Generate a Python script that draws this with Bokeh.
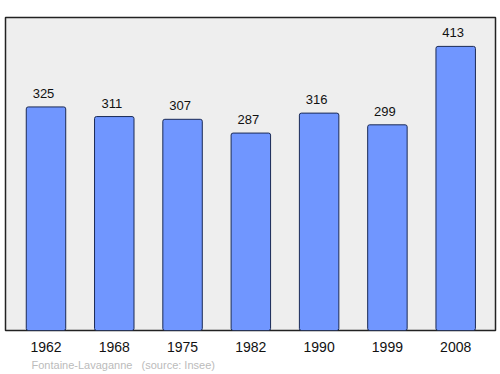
from bokeh.plotting import figure
from bokeh.models import ColumnDataSource, FixedTicker, Title, Range1d
from bokeh.core.properties import value
from bokeh.embed import file_html
from bokeh.resources import INLINE

years = ["1962", "1968", "1975", "1982", "1990", "1999", "2008"]
population = [325, 311, 307, 287, 316, 299, 413]
footer = "Fontaine-Lavaganne\u00a0\u00a0\u00a0(source: Insee)"

xs = list(range(len(years)))
src = ColumnDataSource(dict(x=xs, top=population, label=[str(v) for v in population]))

p = figure(width=500, height=374, output_backend="svg", toolbar_location=None,
           x_range=Range1d(-0.593, 6.583), y_range=Range1d(0, 455),
           min_border_left=5, min_border_right=5, min_border_top=17, min_border_bottom=44)
p.background_fill_color = "#eeeeee"
p.border_fill_color = "white"
p.outline_line_color = "#222222"
p.outline_line_width = 1.5
p.grid.visible = False
p.yaxis.visible = False

p.vbar(x="x", top="top", width=0.578, bottom=0, source=src,
       fill_color="#7096ff", line_color="#1a2a55", line_width=1, border_radius=2)
p.text(x="x", y="top", text="label", source=src, text_align="center",
       text_baseline="bottom", y_offset=-9, x_offset=-2.5, text_font_size="13px",
       text_color="#111111", text_font=value("Liberation Sans"))

ax = p.xaxis[0]
ax.ticker = FixedTicker(ticks=xs)
ax.major_label_overrides = {i: y for i, y in zip(xs, years)}
ax.major_tick_line_color = None
ax.minor_tick_line_color = None
ax.axis_line_color = None
ax.major_label_standoff = 5
ax.major_label_text_font_size = "14px"
ax.major_label_text_font = "Liberation Sans"
ax.major_label_text_color = "#111111"

t = Title(text=footer, align="left", text_font_size="11px", text_color="#bbbbbb",
          text_font="Liberation Sans", text_font_style="normal", offset=26, standoff=5)
p.add_layout(t, "below")

open("out.html", "w").write(file_html(p, INLINE))
